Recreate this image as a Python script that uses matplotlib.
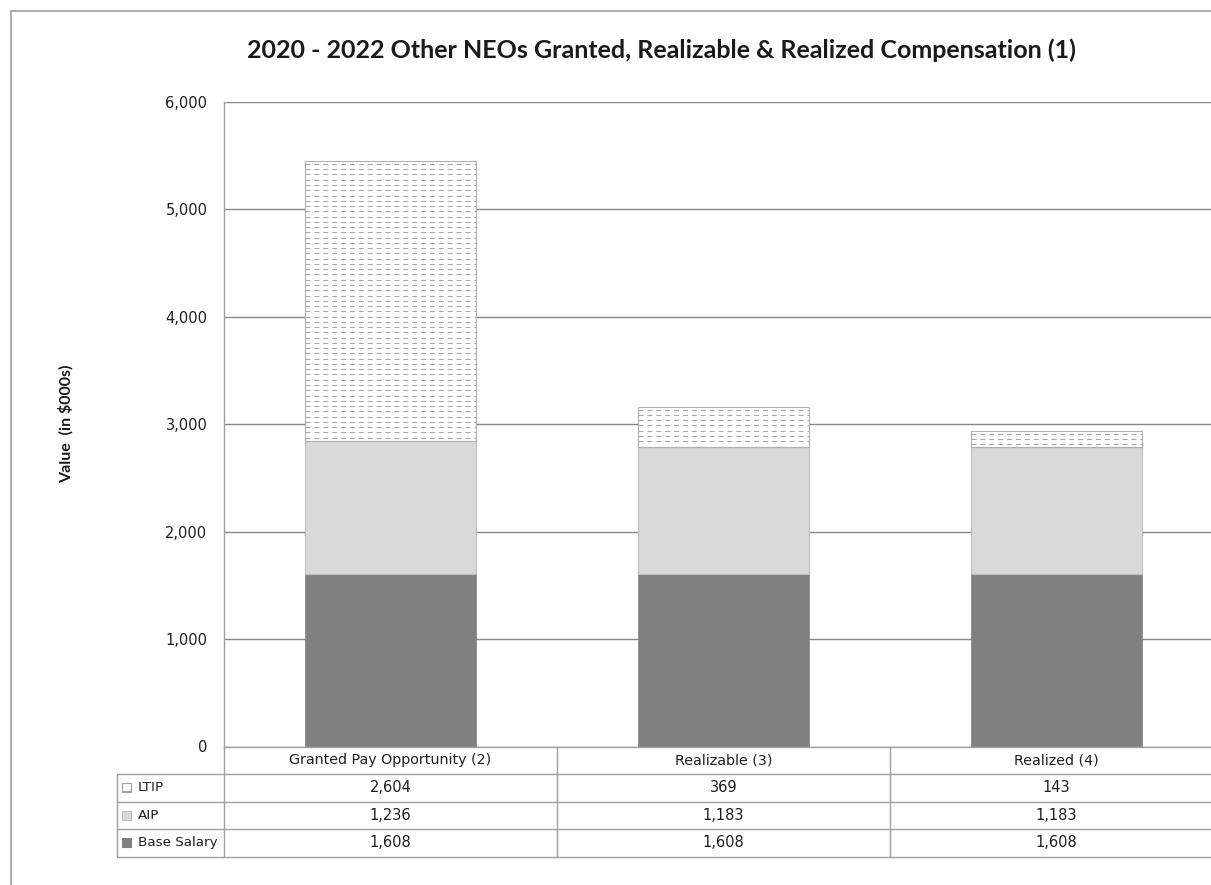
import numpy as np
import matplotlib
matplotlib.use('Agg')
import matplotlib.pyplot as plt
from matplotlib.patches import Rectangle
from matplotlib.ticker import FuncFormatter
from matplotlib.transforms import blended_transform_factory

plt.rcParams['font.family'] = ['DejaVu Sans']
plt.rcParams['hatch.color'] = '#a0a0a0'

# data (in $000s)
categories = ['Granted Pay Opportunity (2)', 'Realizable (3)', 'Realized (4)']
series_names = ['LTIP', 'AIP', 'Base Salary']
base_salary = [1608, 1608, 1608]
aip = [1236, 1183, 1183]
ltip = [2604, 369, 143]

W, H = 1211, 885
fig = plt.figure(figsize=(W / 100, H / 100), dpi=100)


def fx(x):
    return x / W


def fy(y):
    return 1 - y / H


# plot area, the right edge runs off the picture like in the original crop
ax_left, ax_top, ax_bottom, cat_w = 224, 102, 746.5, 333
ax = fig.add_axes([fx(ax_left), fy(ax_bottom), fx(3 * cat_w), (ax_bottom - ax_top) / H])

# chart frame
fig.patches.append(Rectangle((fx(11), -0.2), 1.3, fy(11) + 0.2, transform=fig.transFigure,
                             facecolor='none', edgecolor='#a6a6a6', lw=1.3))

x = np.arange(len(categories))
bw = 0.513
aip_bottom = np.array(base_salary)
ltip_bottom = aip_bottom + np.array(aip)

ax.bar(x, base_salary, width=bw, color='#808080', edgecolor='#8c8c8c', lw=0.6, zorder=2)
ax.bar(x, aip, width=bw, bottom=aip_bottom, color='#d9d9d9', edgecolor='#bdbdbd', lw=0.8, zorder=2)
ltip_bars = ax.bar(x, ltip, width=bw, bottom=ltip_bottom, color='white', edgecolor='#b0b0b0',
                   lw=0.8, zorder=2)

# dashed horizontal fill for LTIP
step = 49
for bar in ltip_bars:
    y0, y1 = bar.get_y(), bar.get_y() + bar.get_height()
    ys = np.arange(y1 - step * 0.5, y0, -step)
    hl = ax.hlines(ys, bar.get_x(), bar.get_x() + bar.get_width(), colors='#a8a8a8',
                   linestyles=(0, (4.5, 3.5)), lw=0.8, zorder=3)
    hl.set_clip_path(bar)

ax.set_xlim(-0.5, 2.5)
ax.set_ylim(0, 6000)
ax.set_yticks(np.arange(0, 6001, 1000))
ax.yaxis.set_major_formatter(FuncFormatter(lambda v, p: f'{v:,.0f}'))
ax.set_xticks([])
ax.tick_params(axis='y', length=0, pad=12, labelsize=10.5, labelcolor='#1f1f1f')
ax.yaxis.grid(True, color='#878787', lw=1.0)
ax.set_axisbelow(True)
for s in ['top', 'right']:
    ax.spines[s].set_visible(False)
for s in ['left', 'bottom']:
    ax.spines[s].set_color('#a0a0a0')
    ax.spines[s].set_linewidth(1.0)

# title and axis label
fig.text(fx(661), fy(50), '2020 - 2022 Other NEOs Granted, Realizable & Realized Compensation (1)',
         ha='center', va='center', fontsize=18, fontweight='bold', family='Lato', color='#1a1a1a')
fig.text(fx(66), fy(424), 'Value  (in $000s)', rotation=90, ha='center', va='center',
         fontsize=11.5, fontweight='bold', family='Lato', color='#1a1a1a')

# data table under the axis
tr = blended_transform_factory(ax.transData, ax.transAxes)
row_h = 27.5 / (ax_bottom - ax_top)
label_x = -0.5 + (116.7 - ax_left) / cat_w
line_kw = dict(color='#a0a0a0', lw=1.0, transform=tr, clip_on=False)
for i in range(1, 5):
    ax.plot([label_x, 2.6], [-i * row_h] * 2, **line_kw)
ax.plot([label_x, label_x], [-row_h, -4 * row_h], **line_kw)
for xb in [-0.5, 0.5, 1.5]:
    ax.plot([xb, xb], [0, -4 * row_h], **line_kw)

for i, cat in enumerate(categories):
    ax.text(i, -0.5 * row_h, cat, ha='center', va='center', fontsize=10.3, color='#1f1f1f',
            transform=tr, clip_on=False)

rows = [ltip, aip, base_salary]
swatch_colors = ['white', '#d9d9d9', '#808080']
swatch_edges = ['#a0a0a0', '#bdbdbd', '#808080']
for r, (name, vals) in enumerate(zip(series_names, rows)):
    yc = -(r + 1.5) * row_h
    for i, v in enumerate(vals):
        ax.text(i, yc, f'{v:,}', ha='center', va='center', fontsize=10.5, color='#1f1f1f',
                transform=tr, clip_on=False)
    ax.text(-0.5 + (137.5 - ax_left) / cat_w, yc, name, ha='left', va='center', fontsize=9.7,
            color='#1f1f1f', transform=tr, clip_on=False)
    ypx = ax_bottom + (r + 1.5) * 27.5
    sw = Rectangle((fx(122), fy(ypx + 4.5)), fx(9), 9 / H, transform=fig.transFigure,
                   facecolor=swatch_colors[r], edgecolor=swatch_edges[r], lw=0.8,
                   hatch='-' if r == 0 else None)
    fig.patches.append(sw)

fig.savefig('out.png', dpi=100)
